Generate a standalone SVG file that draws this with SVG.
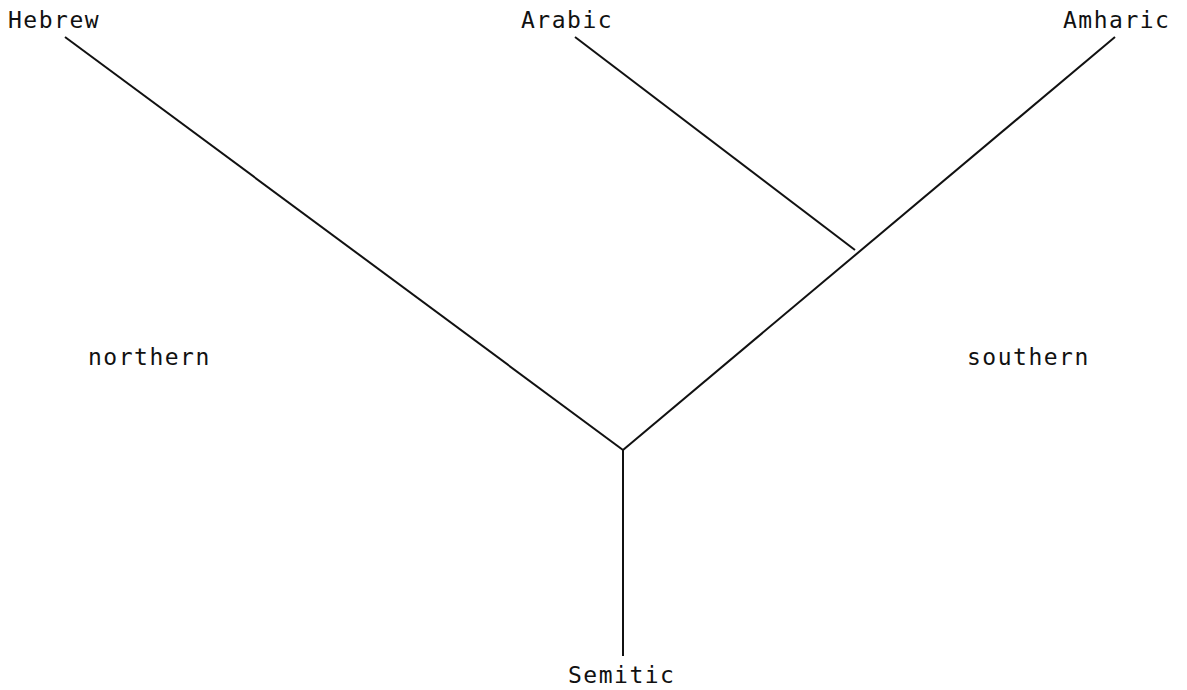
<svg xmlns="http://www.w3.org/2000/svg" width="1187" height="690" viewBox="0 0 1187 690">
<style>
text{font-family:"DejaVu Sans Mono","Liberation Mono",monospace;font-size:23px;letter-spacing:1.5px;fill:#111}
.l{stroke:#111;stroke-width:2;fill:none}
</style>
<rect width="1187" height="690" fill="#fff"/>
<g id="connectors">
<line class="l" x1="65" y1="37" x2="623" y2="450"/>
<line class="l" x1="575" y1="37" x2="855" y2="250"/>
<line class="l" x1="1115" y1="37" x2="623" y2="450"/>
<line class="l" x1="623" y1="450" x2="623" y2="656"/>
</g>
<g id="hebrew"><text x="8" y="28">Hebrew</text></g>
<g id="arabic"><text x="521" y="28">Arabic</text></g>
<g id="amharic"><text x="1063" y="28">Amharic</text></g>
<g id="northern"><text x="88" y="365">northern</text></g>
<g id="southern"><text x="967" y="365">southern</text></g>
<g id="semitic"><text x="568" y="683">Semitic</text></g>
</svg>
